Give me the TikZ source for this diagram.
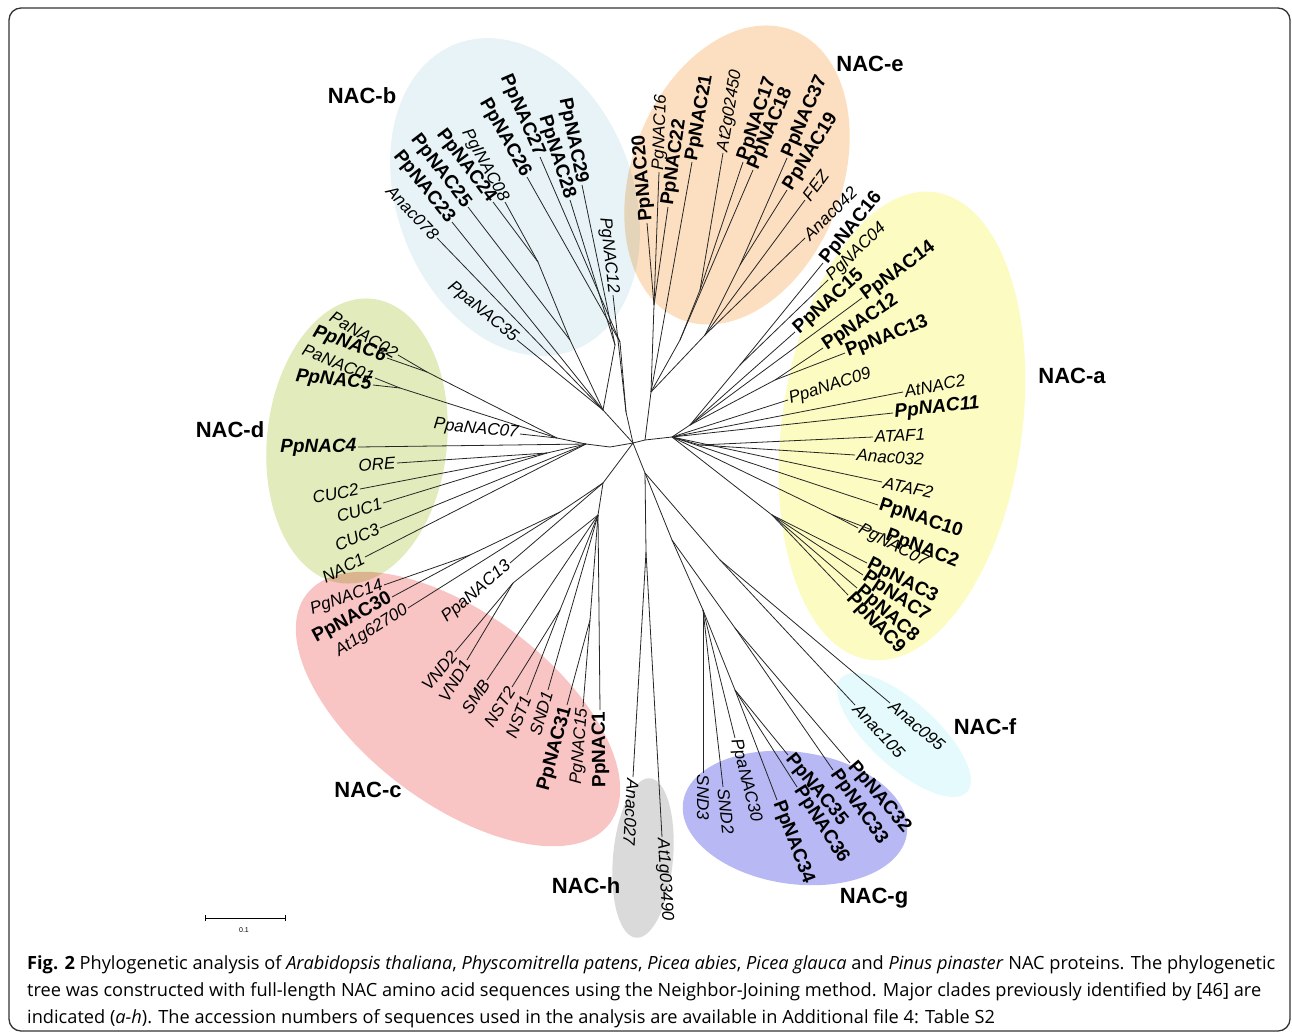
\documentclass[tikz,border=0pt]{standalone}
\usepackage{fontspec}
\setmainfont{Liberation Sans}
\newfontfamily\capfont{Open Sans}
\definecolor{cladeA}{HTML}{FBFBC2}
\definecolor{cladeB}{HTML}{E7F3F6}
\definecolor{cladeC}{HTML}{F8C4C4}
\definecolor{cladeD}{HTML}{E1EBBB}
\definecolor{cladeE}{HTML}{FCDFC1}
\definecolor{cladeF}{HTML}{E4FAFC}
\definecolor{cladeG}{HTML}{B7B8F4}
\definecolor{cladeH}{HTML}{DADADA}
\begin{document}
\begin{tikzpicture}[x=1pt,y=1pt,
    branch/.style={line width=0.8pt,black!85},
    leaf/.style={inner sep=1.5pt,font=\fontsize{17}{18}\selectfont\itshape},
    inm/.style={},
    bnm/.style={font=\fontsize{19}{20}\selectfont\bfseries},
    bim/.style={font=\fontsize{19}{20}\selectfont\bfseries\itshape},
    clade/.style={font=\fontsize{22}{24}\selectfont\bfseries},
    capline/.style={anchor=base west,inner sep=0pt,font=\capfont\fontsize{18.2}{20}\selectfont}]
    \useasboundingbox (0,0) rectangle (1292,-1033);
    % clade backgrounds
    \begin{scope}[blend mode=multiply]
        \fill[cladeB, rotate around={21:(515,-197)}] (515,-197) ellipse (118 and 164);
        \fill[cladeE, rotate around={-21:(737,-175)}] (737,-175) ellipse (105 and 155);
        \fill[cladeA, rotate around={-8:(902,-426)}] (902,-426) ellipse (120 and 236);
        \fill[cladeD, rotate around={-6:(357,-441)}] (357,-441) ellipse (90 and 143);
        \fill[cladeC, rotate around={-37:(458,-709)}] (458,-709) ellipse (190 and 95);
        \fill[cladeF, rotate around={-42:(904,-735)}] (904,-735) ellipse (85 and 33);
        \fill[cladeG, rotate around={-8:(795,-818)}] (795,-818) ellipse (113 and 66);
        \fill[cladeH, rotate around={-5:(643,-858)}] (643,-858) ellipse (30 and 80);
    \end{scope}
    \draw[line width=1.3pt,black!80,rounded corners=12pt] (9,-8) rectangle (1290,-1031);
    % inner nodes of the tree
    \foreach \n/\x/\y in {C/633/443, A1/645/440, Na/672/437,
        E0/651/392, e1/654/305, e2/700/290, e3/680/340, e4/705/335, e5/740/265,
        a1/690/425, a2/740/365, a3/775/380, a4/700/445, a6/833/515, a7/772/515,
        B0/626/412, b1/615/345, B1/603/410, b2/620/342, b3/538/262, b4/570/340,
        D1/610/447, D0/586/444, d1/557/438, d2/427/372, d3/400/388, d4/547/453,
        c0/603/483, c1/560/512, c2/470/555, c3/513/583, c4/598/515, c5/560/610, c6/590/620,
        H1/645/473, h0/646/552, G0/672/540, g1/703/610, g2/735/690, g3/735/628, F0/720/560}
        \coordinate (\n) at (\x,-\y);
    \foreach \u/\v in {C/A1, A1/Na, A1/E0, E0/e1, E0/e3, e3/e2, E0/e4, e4/e5,
        Na/a1, a1/a2, a1/a3, Na/a4, Na/a6, Na/a7,
        C/B0, B0/b2, C/B1, B1/b1, B1/b4, b4/b3,
        C/D1, D1/D0, D0/d1, d1/d2, d1/d3, D0/d4,
        C/c0, c0/c1, c1/c2, c0/c4, c4/c3, c4/c5, c4/c6,
        C/H1, H1/h0, H1/G0, G0/g1, g1/g2, G0/g3, H1/F0}
        \draw[branch] (\u) -- (\v);
    % leaves: parent/name/x/y/side/font
    \foreach \p/\n/\x/\y/\s/\f in {
        e1/PpNAC20/647/223/R/bnm, e1/PgNAC16/659/172/R/inm, e1/PpNAC22/668/207/R/bnm,
        E0/PpNAC21/692/162/R/bnm, e2/At2g02450/723/153/R/inm, e2/PpNAC17/743/162/R/bnm,
        e3/PpNAC18/753/170/R/bnm, e5/PpNAC37/787/158/R/bnm, e5/PpNAC19/787/190/R/bnm,
        e4/FEZ/805/200/R/inm, e4/Anac042/805/238/R/inm,
        a2/PpNAC16/823/263/R/bnm, a2/PgNAC04/828/280/R/inm, a1/PpNAC15/795/332/R/bnm,
        a1/PpNAC14/862/298/R/bnm, a3/PpNAC12/823/348/R/bnm, a3/PpNAC13/845/353/R/bnm,
        Na/PpaNAC09/788/400/R/inm, Na/AtNAC2/903/392/R/inm, Na/PpNAC11/893/413/R/bim,
        a4/ATAF1/873/437/R/inm, a4/Anac032/855/455/R/inm, Na/ATAF2/882/482/R/inm,
        Na/PpNAC10/878/505/R/bnm, a6/PgNAC07/858/528/R/inm, a6/PpNAC2/885/535/R/bnm,
        a7/PpNAC3/867/563/R/bnm, a7/PpNAC7/863/575/R/bnm, a7/PpNAC8/857/588/R/bnm,
        a7/PpNAC9/848/595/R/bnm,
        B0/PgNAC12/613/295/L/inm, b1/PpNAC29/582/185/L/bnm, b1/PpNAC28/570/200/L/bnm,
        b2/PpNAC27/540/157/L/bnm, b2/PpNAC26/527/177/L/bnm, b3/PgINAC08/505/202/L/inm,
        b3/PpNAC24/493/202/L/bnm, b4/PpNAC25/468/207/L/bnm, B1/PpNAC23/452/222/L/bnm,
        B1/Anac078/437/238/L/inm, B1/PpaNAC35/517/340/L/inm,
        d2/PaNAC02/398/355/L/inm, d2/PpNAC6/387/358/L/bim, d3/PaNAC01/375/378/L/inm,
        d3/PpNAC5/373/385/L/bim, d1/PpaNAC07/520/434/L/inm, D0/PpNAC4/358/447/L/bim,
        d4/ORE/397/463/L/inm, d4/CUC2/360/489/L/inm, d4/CUC1/383/503/L/inm,
        D0/CUC3/380/528/L/inm, D0/NAC1/365/557/L/inm,
        c2/PgNAC14/384/585/L/inm, c2/PpNAC30/392/597/L/bnm, c1/At1g62700/408/608/L/inm,
        c0/PpaNAC13/510/563/L/inm, c3/VND2/455/652/L/inm, c3/VND1/467/660/L/inm,
        c4/SMB/487/680/L/inm, c5/NST2/512/687/L/inm, c5/NST1/527/695/L/inm,
        c4/SND1/548/690/L/inm, c6/PpNAC31/567/705/L/bnm, c6/PgNAC15/583/707/L/inm,
        c4/PpNAC1/600/710/L/bnm,
        h0/Anac027/633/777/R/inm, h0/At1g03490/662/837/R/inm,
        g1/SND3/703/773/R/inm, g1/SND2/723/787/R/inm, g1/PpaNAC30/735/738/R/inm,
        g2/PpNAC34/777/800/R/bnm, g2/PpNAC36/797/787/R/bnm, g2/PpNAC35/788/755/R/bnm,
        g3/PpNAC33/833/770/R/bnm, g3/PpNAC32/850/763/R/bnm,
        F0/Anac105/855/705/R/inm, F0/Anac095/890/703/R/inm}{
        \pgfmathanglebetweenpoints{\pgfpointanchor{\p}{center}}{\pgfpoint{\x pt}{-\y pt}}
        \let\ang\pgfmathresult
        \if\s L
            \node[leaf,\f,anchor=east,rotate=\ang+180] (\n) at (\x,-\y) {\n};
            \draw[branch] (\p) -- (\n.east);
        \else
            \node[leaf,\f,anchor=west,rotate=\ang] (\n) at (\x,-\y) {\n};
            \draw[branch] (\p) -- (\n.west);
        \fi
    }
    % clade names
    \node[clade] (labA) at (1072,-376) {NAC-a};
    \node[clade] (labB) at (362,-96) {NAC-b};
    \node[clade] (labC) at (368,-790) {NAC-c};
    \node[clade] (labD) at (230,-430) {NAC-d};
    \node[clade] (labE) at (870,-64) {NAC-e};
    \node[clade] (labF) at (985,-727) {NAC-f};
    \node[clade] (labG) at (874,-898) {NAC-g};
    \node[clade] (labH) at (586,-886) {NAC-h};
    % scale bar
    \coordinate (s1) at (205,-918);
    \coordinate (s2) at (285,-918);
    \draw[line width=0.8pt] (s1) -- (s2);
    \draw[line width=0.8pt] ([yshift=3pt]s1) -- ([yshift=-3pt]s1);
    \draw[line width=0.8pt] ([yshift=3pt]s2) -- ([yshift=-3pt]s2);
    \node[font=\fontsize{7}{8}\selectfont] (sclab) at (244,-930) {0.1};
    % caption
    \node[capline] (cap1) at (27,-969) {\textbf{Fig. 2} Phylogenetic analysis of \textit{Arabidopsis thaliana}, \textit{Physcomitrella patens}, \textit{Picea abies}, \textit{Picea glauca} and \textit{Pinus pinaster} NAC proteins. The phylogenetic};
    \node[capline] (cap2) at (27,-996) {tree was constructed with full-length NAC amino acid sequences using the Neighbor-Joining method. Major clades previously identified by [46] are};
    \node[capline] (cap3) at (27,-1023) {indicated (\textit{a-h}). The accession numbers of sequences used in the analysis are available in Additional file 4: Table S2};
\end{tikzpicture}
\end{document}
